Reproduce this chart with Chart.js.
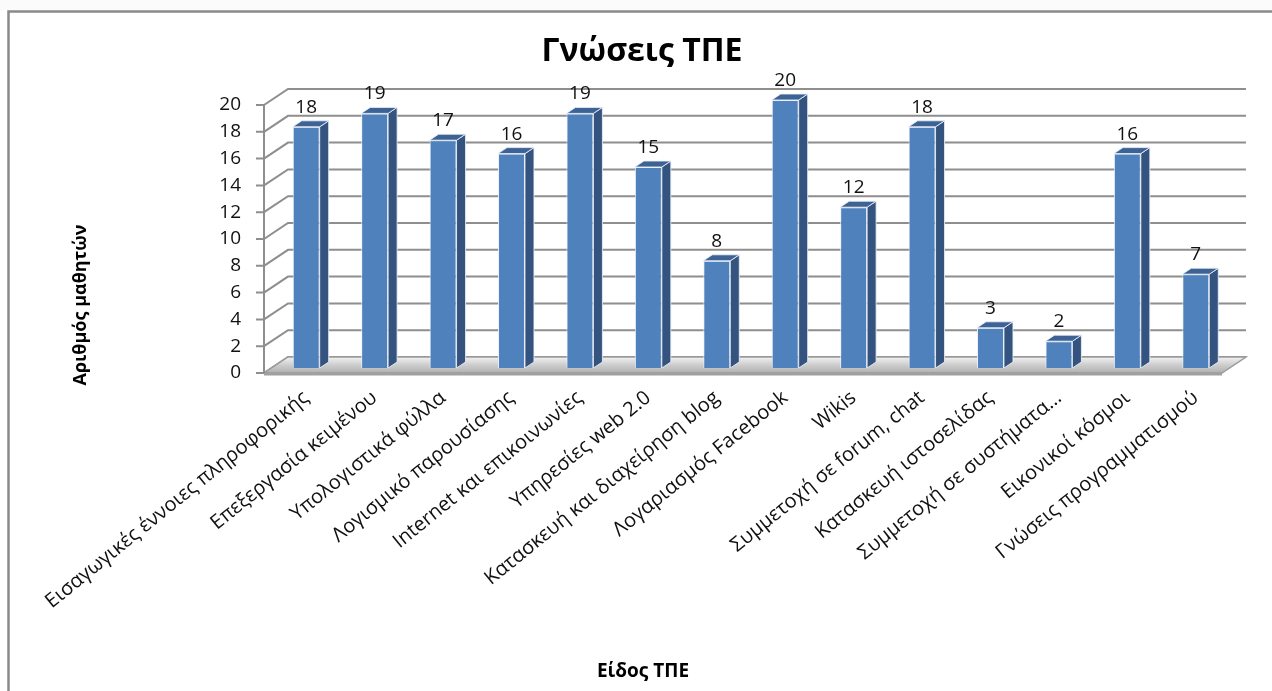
<!DOCTYPE html>
<html>
<head>
<meta charset="utf-8">
<script src="https://cdn.jsdelivr.net/npm/chart.js@4.4.1/dist/chart.umd.min.js"></script>
<style>
html,body{margin:0;padding:0;background:#fff;overflow:hidden;}
canvas{display:block;}
</style>
</head>
<body>
<canvas id="c" width="1272" height="691"></canvas>
<script>
// ---- data ----
const categories = [
  'Εισαγωγικές έννοιες πληροφορικής',
  'Επεξεργασία κειμένου',
  'Υπολογιστικά φύλλα',
  'Λογισμικό παρουσίασης',
  'Internet και επικοινωνίες',
  'Υπηρεσίες web 2.0',
  'Κατασκευή και διαχείρηση blog',
  'Λογαριασμός Facebook',
  'Wikis',
  'Συμμετοχή σε forum, chat',
  'Κατασκευή ιστοσελίδας',
  'Συμμετοχή σε συστήματα…',
  'Εικονικοί κόσμοι',
  'Γνώσεις προγραμματισμού'
];
const values = [18, 19, 17, 16, 19, 15, 8, 20, 12, 18, 3, 2, 16, 7];
const yMin = 0, yMax = 20, yStep = 2;
const chartTitle = 'Γνώσεις ΤΠΕ';
const xAxisTitle = 'Είδος ΤΠΕ';
const yAxisTitle = 'Αριθμός μαθητών';

// ---- style constants ----
const FONT = "'Open Sans', 'Noto Sans', sans-serif";
const FRONT = {dx: -8, dy: 5};     // front plane relative to bar plane
const DEPTH = {dx: 24, dy: -16};   // back wall relative to front plane
const BAR3D = {dx: 9, dy: -6};     // bar depth
const GRID = '#8e8e8e';

const plot3d = {
  id: 'plot3d',
  beforeDraw(chart) {
    const {ctx, width, height} = chart;
    ctx.save();
    ctx.fillStyle = '#ffffff';
    ctx.fillRect(0, 0, width, height);
    ctx.fillStyle = '#fbfbfb';
    ctx.fillRect(0, 0, width, 10);
    ctx.strokeStyle = '#8a8a8a';
    ctx.lineWidth = 2.5;
    ctx.beginPath();
    ctx.moveTo(8.5, height + 2);
    ctx.lineTo(8.5, 11.5);
    ctx.lineTo(width + 2, 11.5);
    ctx.stroke();
    ctx.restore();
  },
  beforeDatasetsDraw(chart) {
    const {ctx, chartArea: a, scales: {y}} = chart;
    const fl = a.left + FRONT.dx, fr = a.right + FRONT.dx;
    ctx.save();
    ctx.strokeStyle = GRID;
    ctx.lineWidth = 2;
    y.ticks.forEach(t => {
      const yf = y.getPixelForValue(t.value) + FRONT.dy;
      ctx.beginPath();
      ctx.moveTo(fl, yf);
      ctx.lineTo(fl + DEPTH.dx, yf + DEPTH.dy);
      ctx.lineTo(fr + DEPTH.dx, yf + DEPTH.dy);
      ctx.stroke();
    });
    // floor
    const y0 = y.getPixelForValue(yMin) + FRONT.dy;
    const g = ctx.createLinearGradient(0, y0 + DEPTH.dy, 0, y0);
    g.addColorStop(0, '#f2f2f2');
    g.addColorStop(0.5, '#cdcdcd');
    g.addColorStop(1, '#b0b0b0');
    ctx.fillStyle = g;
    ctx.beginPath();
    ctx.moveTo(fl, y0);
    ctx.lineTo(fr, y0);
    ctx.lineTo(fr + DEPTH.dx, y0 + DEPTH.dy);
    ctx.lineTo(fl + DEPTH.dx, y0 + DEPTH.dy);
    ctx.closePath();
    ctx.fill();
    ctx.strokeStyle = '#9c9c9c';
    ctx.lineWidth = 1.5;
    ctx.stroke();
    ctx.fillStyle = '#a0a0a0';
    ctx.fillRect(fl, y0, fr - fl, 2.5);
    // vertical axis + tick marks
    const yTop = y.getPixelForValue(yMax) + FRONT.dy;
    ctx.strokeStyle = GRID;
    ctx.lineWidth = 2;
    ctx.beginPath();
    ctx.moveTo(fl, yTop);
    ctx.lineTo(fl, y0);
    y.ticks.forEach(t => {
      const yf = y.getPixelForValue(t.value) + FRONT.dy;
      ctx.moveTo(fl - 8, yf);
      ctx.lineTo(fl, yf);
    });
    ctx.stroke();
    ctx.restore();
  },
  afterDatasetsDraw(chart) {
    const {ctx} = chart;
    const meta = chart.getDatasetMeta(0);
    ctx.save();
    meta.data.forEach((el, i) => {
      const p = el.getProps(['x', 'y', 'base', 'width'], true);
      const l = p.x - p.width / 2, r = p.x + p.width / 2;
      ctx.beginPath();
      ctx.moveTo(r, p.y);
      ctx.lineTo(r + BAR3D.dx, p.y + BAR3D.dy);
      ctx.lineTo(r + BAR3D.dx, p.base + BAR3D.dy);
      ctx.lineTo(r, p.base);
      ctx.closePath();
      ctx.fillStyle = '#34547f';
      ctx.fill();
      ctx.strokeStyle = 'rgba(235,240,250,0.85)';
      ctx.lineWidth = 1;
      ctx.stroke();
      ctx.beginPath();
      ctx.moveTo(l, p.y);
      ctx.lineTo(l + BAR3D.dx, p.y + BAR3D.dy);
      ctx.lineTo(r + BAR3D.dx, p.y + BAR3D.dy);
      ctx.lineTo(r, p.y);
      ctx.closePath();
      ctx.fillStyle = '#3d6394';
      ctx.fill();
      ctx.stroke();
      ctx.fillStyle = '#111';
      ctx.font = '19px ' + FONT;
      ctx.textAlign = 'center';
      ctx.textBaseline = 'alphabetic';
      ctx.fillText(String(values[i]), p.x, p.y - 14);
    });
    ctx.restore();
  },
  afterDraw(chart) {
    const {ctx} = chart;
    ctx.save();
    ctx.fillStyle = '#000';
    ctx.textAlign = 'center';
    ctx.textBaseline = 'middle';
    ctx.font = 'bold 32px ' + FONT;
    ctx.fillText(chartTitle, 642, 52);
    ctx.font = 'bold 19px ' + FONT;
    ctx.fillText(xAxisTitle, 643, 672);
    ctx.font = 'bold 18px ' + FONT;
    ctx.translate(81, 305);
    ctx.rotate(-Math.PI / 2);
    ctx.fillText(yAxisTitle, 0, 0);
    ctx.restore();
  }
};

new Chart(document.getElementById('c'), {
  type: 'bar',
  data: {
    labels: categories,
    datasets: [{
      data: values,
      backgroundColor: '#4f81bd',
      borderColor: 'rgba(235,240,250,0.9)',
      borderWidth: 1,
      categoryPercentage: 1,
      barPercentage: 0.394
    }]
  },
  options: {
    responsive: false,
    animation: false,
    devicePixelRatio: 1,
    layout: {padding: {left: 0, top: 100, right: 42, bottom: 73}},
    plugins: {legend: {display: false}, title: {display: false}, tooltip: {enabled: false}},
    scales: {
      x: {
        grid: {display: false, drawTicks: false},
        border: {display: false},
        ticks: {
          autoSkip: false,
          maxRotation: 39,
          minRotation: 39,
          padding: 18,
          labelOffset: 0,
          color: '#111',
          font: {family: FONT, size: 20}
        },
        afterFit(s) { s.height = 250; }
      },
      y: {
        min: yMin,
        max: yMax,
        grid: {display: false, drawTicks: false},
        border: {display: false},
        ticks: {
          stepSize: yStep,
          padding: 31,
          labelOffset: 5,
          color: '#111',
          font: {family: FONT, size: 19}
        },
        afterFit(s) { s.width = 272; }
      }
    }
  },
  plugins: [plot3d]
});
</script>
</body>
</html>
